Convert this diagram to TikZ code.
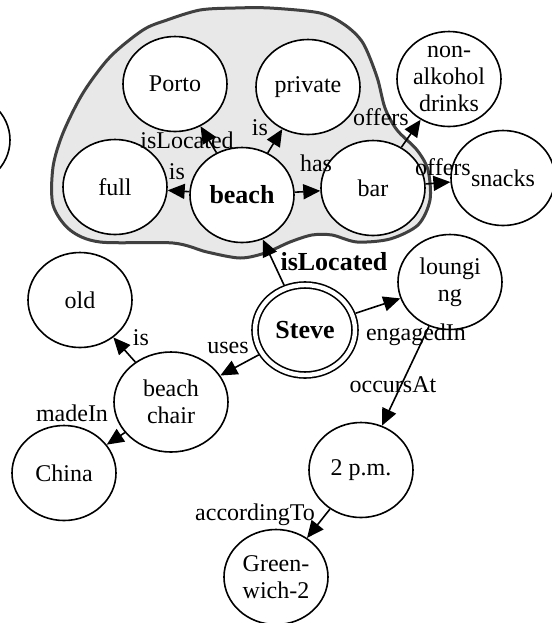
\documentclass[tikz,border=0pt]{standalone}
\usepackage{fontspec}
\setmainfont{Liberation Serif}
\usetikzlibrary{arrows.meta, shapes.geometric}

\begin{document}
\begin{tikzpicture}[x=0.5pt, y=-0.5pt,
        >={Triangle[length=8.5pt, width=7.5pt]},
        ent/.style={ellipse, draw, line width=0.8pt, fill=white, inner sep=0pt,
                    minimum width=52pt, minimum height=47.5pt, align=center,
                    font=\fontsize{12}{13.5}\selectfont},
        key/.style={font=\fontsize{13}{15}\selectfont\bfseries},
        arr/.style={->, line width=0.8pt},
        lbl/.style={inner sep=0pt, font=\fontsize{12}{13.5}\selectfont},
    ]
    \clip (0,0) rectangle (552,623);

    % ---- Context region around the beach ----
    \draw[fill=gray!18, draw=black!75, line width=1.5pt] plot[smooth cycle] coordinates {
        (200,10) (167,20) (143,30) (110,57) (83,93) (63,133) (53,167) (53,205)
        (70,230) (100,242) (173,243) (207,252) (240,258) (265,253) (290,242)
        (312,235) (332,235) (357,242) (390,239) (418,225) (430,200) (428,170)
        (417,150) (397,130) (385,108) (377,77) (363,43) (345,25) (320,13)
        (270,8) (235,8)};

    % ---- Entities ----
    \node[ent] (left) at (-42,140) {};
    \node[ent] (porto) at (175,84) {Porto};
    \node[ent] (private) at (308,87) {private};
    \node[ent, inner ysep=-4pt] (drinks) at (449,79) {non-\\alkohol\\drinks};
    \node[ent] (full) at (115,187) {full};
    \node[ent, key] (beach) at (242,195) {beach};
    \node[ent] (bar) at (373,188) {bar};
    \node[ent] (snacks) at (503,178) {snacks};

    \node[ent, key, double, double distance=2.2pt, minimum width=50pt, minimum height=45pt,
          outer sep=1.9pt] (steve) at (305,330) {Steve};
    \node[ent] (lounging) at (450,282) {loungi\\ng};
    \node[ent] (old) at (80,300) {old};
    \node[ent, minimum width=57pt, minimum height=50pt] (chair) at (171,402) {beach\\chair};
    \node[ent] (china) at (64,473) {China};
    \node[ent] (pm) at (361,470) {2 p.m.};
    \node[ent] (greenwich) at (276,577) {Green-\\wich-2};

    % ---- Relations inside the region ----
    \draw[arr] (beach) -- (porto) node[lbl] (l-porto) at (187,140) {isLocated};
    \draw[arr] (beach) -- (private) node[lbl] (l-private) at (260,128) {is};
    \draw[arr] (beach) -- (full) node[lbl] (l-full) at (177,172) {is};
    \draw[arr] (beach) -- (bar) node[lbl] (l-bar) at (316,163) {has};
    \draw[arr] (bar) -- (drinks) node[lbl] (l-drinks) at (381,117) {offers};
    \draw[arr] (bar) -- (snacks) node[lbl] (l-snacks) at (443,167) {offers};

    % ---- Relations of Steve ----
    \draw[arr] (steve) -- (beach) node[lbl, key] (l-beach) at (334,262) {isLocated};
    \draw[arr] (steve) -- (lounging) node[lbl] (l-lounging) at (416,335) {engagedIn};
    \draw[arr] (steve) -- (chair) node[lbl] (l-chair) at (228,348) {uses};
    \draw[arr] (lounging) -- (pm) node[lbl] (l-pm) at (393,385) {occursAt};
    \draw[arr] (chair) -- (old) node[lbl] (l-old) at (141,338) {is};
    \draw[arr] (chair) -- (china) node[lbl] (l-china) at (72,413) {madeIn};
    \draw[arr] (pm) -- (greenwich) node[lbl] (l-greenwich) at (255,515) {accordingTo};

\end{tikzpicture}
\end{document}
